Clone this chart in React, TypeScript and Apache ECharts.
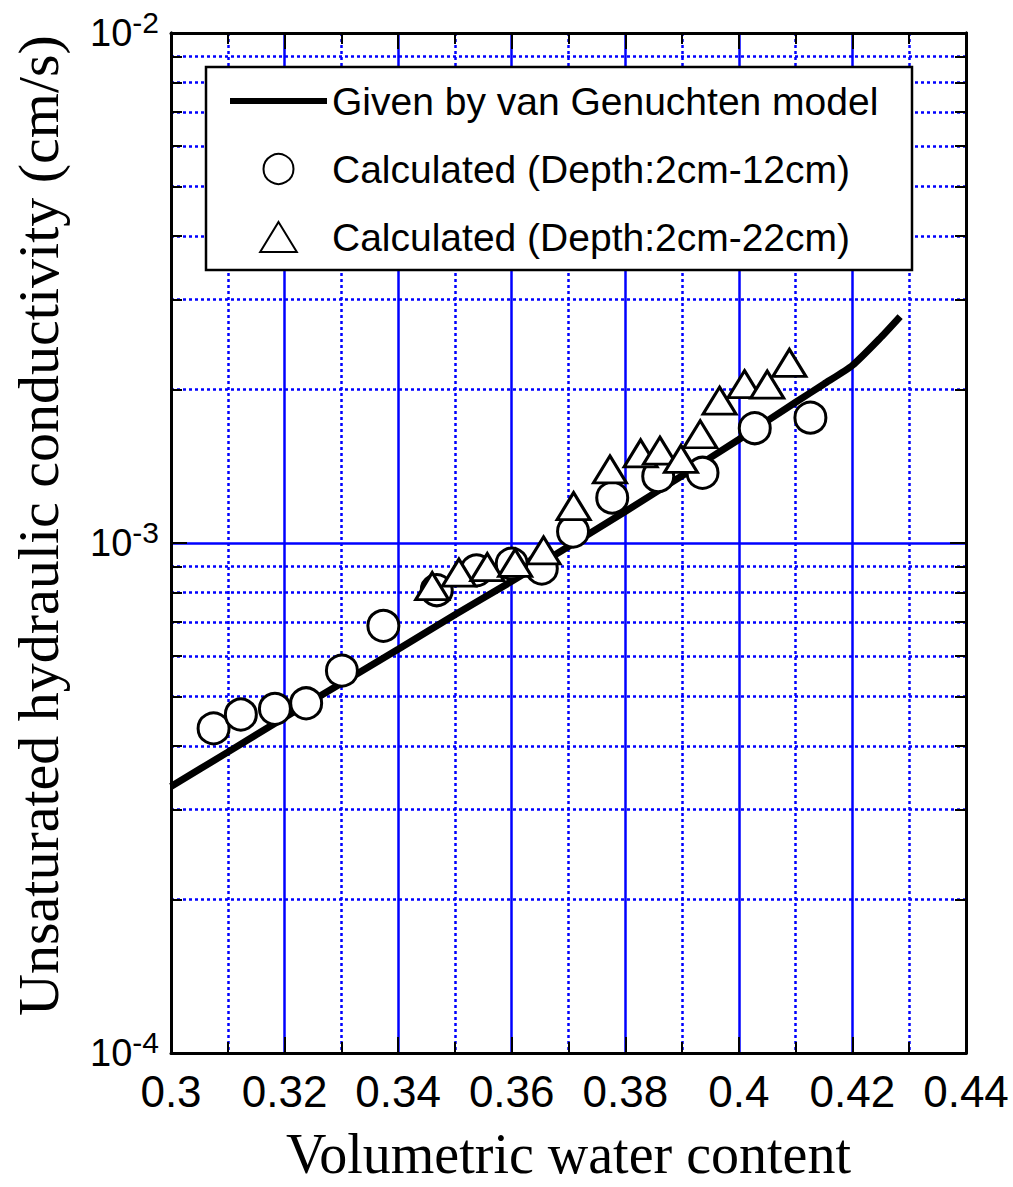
import React, { useEffect, useRef } from 'react';
import * as echarts from 'echarts';

// van Genuchten model curve (volumetric water content, conductivity cm/s)
const lineTheta = [0.3, 0.31, 0.32, 0.33, 0.34, 0.35, 0.36, 0.37, 0.38, 0.39, 0.4, 0.41, 0.415, 0.42, 0.425, 0.4284];
const lineK = [3.33e-4, 3.89e-4, 4.55e-4, 5.31e-4, 6.19e-4, 7.23e-4, 8.41e-4, 9.84e-4, 1.153e-3, 1.355e-3, 1.596e-3, 1.888e-3, 2.05e-3, 2.23e-3, 2.53e-3, 2.78e-3];

// Calculated (Depth: 2cm-12cm) - circles
const circTheta = [0.3075, 0.3123, 0.3183, 0.3238, 0.3301, 0.3374, 0.3468, 0.3538, 0.36, 0.3653, 0.3708, 0.3777, 0.3858, 0.3936, 0.4028, 0.4126];
const circK = [4.33e-4, 4.61e-4, 4.73e-4, 4.85e-4, 5.62e-4, 6.88e-4, 8.08e-4, 8.84e-4, 9.11e-4, 8.91e-4, 1.053e-3, 1.227e-3, 1.352e-3, 1.373e-3, 1.679e-3, 1.761e-3];

// Calculated (Depth: 2cm-22cm) - triangles
const triTheta = [0.346, 0.3507, 0.3557, 0.3606, 0.3656, 0.3709, 0.3773, 0.3827, 0.3861, 0.3898, 0.3932, 0.3966, 0.401, 0.405, 0.4089];
const triK = [8.23e-4, 8.75e-4, 8.97e-4, 9.14e-4, 9.67e-4, 1.181e-3, 1.394e-3, 1.499e-3, 1.517e-3, 1.462e-3, 1.634e-3, 1.901e-3, 2.048e-3, 2.045e-3, 2.256e-3];

// minor log grid values
const minorGridK = [2e-4, 3e-4, 4e-4, 5e-4, 6e-4, 7e-4, 8e-4, 9e-4, 2e-3, 3e-3, 4e-3, 5e-3, 6e-3, 7e-3, 8e-3, 9e-3];

const seriesNames = ['Given by van Genuchten model', 'Calculated (Depth:2cm-12cm)', 'Calculated (Depth:2cm-22cm)'];
const xAxisName = 'Volumetric water content';
const yAxisName = 'Unsaturated hydraulic conductivity (cm/s)';

export default function App() {
  const ref = useRef<HTMLDivElement>(null);
  useEffect(() => {
    document.body.style.margin = '0';
    const chart = echarts.init(ref.current!, null, { renderer: 'svg' });
    const blue = '#0000ff';
    const dotted = [3, 3];
    const gridW = 2.5;
    const sans = 'Liberation Sans, Arial, sans-serif';
    const serif = 'Liberation Serif, Times New Roman, serif';
    const black = { color: '#000', width: 3 };
    const tickStyle = { color: '#000', width: 2 };
    const minorTickLog = minorGridK.map((v) => Math.log10(v));
    const xBase = { type: 'value', min: 0.3, max: 0.44, interval: 0.02 };

    chart.setOption({
      animation: false,
      backgroundColor: '#fff',
      grid: { left: 171, right: 47, top: 33, bottom: 125, containLabel: false },
      xAxis: [
        {
          ...xBase,
          position: 'bottom',
          name: xAxisName,
          nameLocation: 'middle',
          nameGap: 73,
          nameTextStyle: { fontFamily: serif, fontSize: 56, color: '#000' },
          axisLine: { show: true, lineStyle: black },
          axisTick: { show: true, inside: true, length: 16, lineStyle: tickStyle },
          minorTick: { show: true, splitNumber: 2, length: 11, lineStyle: tickStyle },
          axisLabel: {
            margin: 16,
            fontFamily: sans,
            fontSize: 44,
            color: '#000',
            showMinLabel: true,
            showMaxLabel: true,
            formatter: (v: number) => String(+v.toFixed(2)),
          },
          splitLine: { show: true, lineStyle: { color: blue, width: gridW } },
          minorSplitLine: { show: true, lineStyle: { color: blue, width: gridW, type: dotted } },
        },
        {
          ...xBase,
          position: 'top',
          axisLine: { show: true, lineStyle: black },
          axisTick: { show: true, inside: true, length: 16, lineStyle: tickStyle },
          minorTick: { show: true, splitNumber: 2, length: 11, lineStyle: tickStyle },
          axisLabel: { show: false },
          splitLine: { show: false },
        },
      ],
      yAxis: [
        {
          type: 'log',
          logBase: 10,
          min: 1e-4,
          max: 1e-2,
          position: 'left',
          name: yAxisName,
          nameLocation: 'middle',
          nameRotate: 90,
          nameGap: 104,
          nameTextStyle: { fontFamily: serif, fontSize: 58, color: '#000', padding: [0, 0, 0, 35] },
          axisLine: { show: true, lineStyle: black },
          axisTick: { show: true, inside: true, length: 16, lineStyle: tickStyle },
          axisLabel: {
            margin: 12,
            padding: [0, 0, 7, 0],
            formatter: (v: number) => `{b|10}{s|${Math.round(Math.log10(v))}}`,
            rich: {
              b: { fontFamily: sans, fontSize: 38, lineHeight: 38, color: '#000', verticalAlign: 'bottom' },
              s: { fontFamily: sans, fontSize: 30, lineHeight: 45, color: '#000', verticalAlign: 'top' },
            },
          },
          splitLine: { show: true, lineStyle: { color: blue, width: gridW } },
        },
        {
          type: 'value',
          min: -4,
          max: -2,
          position: 'left',
          z: 10,
          axisLine: { show: true, lineStyle: black },
          axisTick: { show: true, inside: true, length: 11, lineStyle: tickStyle, customValues: minorTickLog },
          axisLabel: { show: false },
          splitLine: { show: false },
        },
        {
          type: 'log',
          logBase: 10,
          min: 1e-4,
          max: 1e-2,
          position: 'right',
          axisLine: { show: true, lineStyle: black },
          axisTick: { show: true, inside: true, length: 16, lineStyle: tickStyle },
          axisLabel: { show: false },
          splitLine: { show: false },
        },
        {
          type: 'value',
          min: -4,
          max: -2,
          position: 'right',
          z: 10,
          axisLine: { show: true, lineStyle: black },
          axisTick: { show: true, inside: true, length: 11, lineStyle: tickStyle, customValues: minorTickLog },
          axisLabel: { show: false },
          splitLine: { show: false },
        },
        {
          // minor (dotted) log grid lines
          type: 'value',
          min: -4,
          max: -2,
          position: 'left',
          axisLine: { show: false },
          axisTick: { show: false, customValues: minorTickLog },
          axisLabel: { show: false },
          splitLine: { show: true, lineStyle: { color: blue, width: gridW, type: dotted } },
        },
      ],
      legend: {
        show: true,
        orient: 'vertical',
        left: 230,
        top: 81,
        itemWidth: 97,
        itemHeight: 30,
        itemGap: 28,
        padding: 0,
        selectedMode: false,
        symbolKeepAspect: true,
        z: 60,
        data: [
          { name: seriesNames[0], icon: 'path://M0,0L97,0L97,6L0,6Z', itemStyle: { color: '#000', borderWidth: 0 } },
          { name: seriesNames[1], icon: 'circle' },
          { name: seriesNames[2], icon: 'path://M16.5,0L33,27L0,27Z' },
        ],
        textStyle: { fontFamily: sans, fontSize: 39, lineHeight: 40, color: '#000' },
      },
      graphic: [
        {
          type: 'rect',
          z: 50,
          shape: { x: 206, y: 67, width: 706, height: 203 },
          style: { fill: '#fff', stroke: '#000', lineWidth: 2.5 },
        },
      ],
      series: [
        {
          type: 'line',
          name: seriesNames[0],
          data: lineTheta.map((x, i) => [x, lineK[i]]),
          xAxisIndex: 0,
          yAxisIndex: 0,
          z: 2,
          symbol: 'none',
          showSymbol: false,
          smooth: 0.2,
          lineStyle: { color: '#000', width: 7 },
          itemStyle: { color: '#000' },
        },
        {
          type: 'scatter',
          name: seriesNames[1],
          data: circTheta.map((x, i) => [x, circK[i]]),
          xAxisIndex: 0,
          yAxisIndex: 0,
          z: 3,
          symbol: 'circle',
          symbolSize: 31,
          symbolKeepAspect: true,
          itemStyle: { color: '#fff', borderColor: '#000', borderWidth: 3, opacity: 1 },
        },
        {
          type: 'scatter',
          name: seriesNames[2],
          data: triTheta.map((x, i) => [x, triK[i]]),
          xAxisIndex: 0,
          yAxisIndex: 0,
          z: 4,
          symbol: 'triangle',
          symbolSize: [33, 27],
          symbolKeepAspect: true,
          itemStyle: { color: '#fff', borderColor: '#000', borderWidth: 3, opacity: 1 },
        },
      ],
    });
    return () => chart.dispose();
  }, []);
  return <div ref={ref} style={{ width: 1013, height: 1187 }} />;
}
